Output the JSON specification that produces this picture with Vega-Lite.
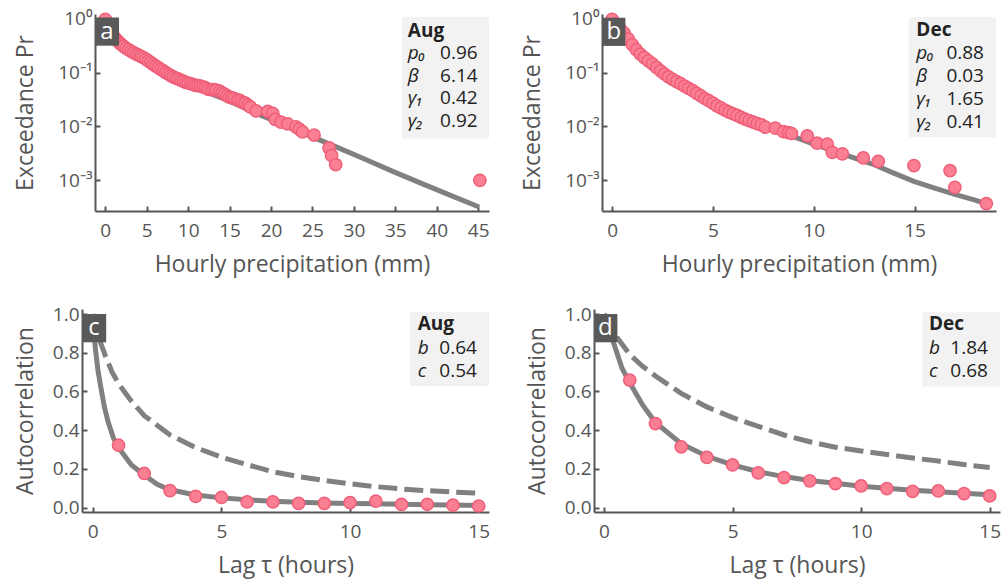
{
  "$schema": "https://vega.github.io/schema/vega-lite/v6.json",
  "background": "white",
  "padding": {"left": 13, "top": 9, "right": 6, "bottom": 6},
  "config": {
    "font": "Open Sans",
    "view": {"stroke": null},
    "text": {"font": "Open Sans"},
    "axis": {"domainColor": "#555", "domainWidth": 2, "tickColor": "#555", "tickWidth": 2, "tickSize": -5, "labelColor": "#555", "titleColor": "#555", "labelFontSize": 19, "titleFontSize": 23, "titleFontWeight": "normal", "grid": false, "labelFont": "Open Sans", "titleFont": "Open Sans"},
    "axisX": {"labelPadding": 15, "titlePadding": 13},
    "axisY": {"labelPadding": 8}
  },
  "datasets": {
    "pts": [
      {"p":"a","x":0.0,"y":0.97},{"p":"a","x":0.2,"y":0.80},{"p":"a","x":0.4,"y":0.68},{"p":"a","x":0.6,"y":0.60},{"p":"a","x":0.8,"y":0.53},{"p":"a","x":1.0,"y":0.47},{"p":"a","x":1.2,"y":0.43},{"p":"a","x":1.4,"y":0.40},{"p":"a","x":1.6,"y":0.37},{"p":"a","x":1.8,"y":0.345},{"p":"a","x":2.0,"y":0.325},{"p":"a","x":2.2,"y":0.305},{"p":"a","x":2.5,"y":0.285},{"p":"a","x":2.8,"y":0.265},{"p":"a","x":3.1,"y":0.25},{"p":"a","x":3.4,"y":0.235},{"p":"a","x":3.7,"y":0.222},{"p":"a","x":4.0,"y":0.21},{"p":"a","x":4.3,"y":0.20},{"p":"a","x":4.6,"y":0.19},{"p":"a","x":4.9,"y":0.178},{"p":"a","x":5.2,"y":0.165},{"p":"a","x":5.5,"y":0.153},{"p":"a","x":5.8,"y":0.142},{"p":"a","x":6.1,"y":0.132},{"p":"a","x":6.4,"y":0.123},{"p":"a","x":6.7,"y":0.115},{"p":"a","x":7.0,"y":0.107},{"p":"a","x":7.3,"y":0.100},{"p":"a","x":7.6,"y":0.094},{"p":"a","x":7.9,"y":0.088},{"p":"a","x":8.2,"y":0.083},{"p":"a","x":8.5,"y":0.079},{"p":"a","x":8.8,"y":0.076},{"p":"a","x":9.1,"y":0.072},{"p":"a","x":9.4,"y":0.069},{"p":"a","x":9.7,"y":0.066},{"p":"a","x":10.0,"y":0.064},{"p":"a","x":10.3,"y":0.062},{"p":"a","x":10.6,"y":0.060},{"p":"a","x":10.9,"y":0.058},{"p":"a","x":11.2,"y":0.057},{"p":"a","x":11.5,"y":0.056},{"p":"a","x":11.8,"y":0.054},{"p":"a","x":12.1,"y":0.052},{"p":"a","x":12.4,"y":0.049},{"p":"a","x":12.8,"y":0.048},{"p":"a","x":13.1,"y":0.048},{"p":"a","x":13.4,"y":0.047},{"p":"a","x":13.8,"y":0.045},{"p":"a","x":14.1,"y":0.042},{"p":"a","x":14.4,"y":0.040},{"p":"a","x":14.7,"y":0.037},{"p":"a","x":15.0,"y":0.035},{"p":"a","x":15.3,"y":0.034},{"p":"a","x":15.6,"y":0.033},{"p":"a","x":16.0,"y":0.031},{"p":"a","x":16.3,"y":0.030},{"p":"a","x":16.6,"y":0.028},{"p":"a","x":16.9,"y":0.027},{"p":"a","x":17.2,"y":0.025},{"p":"a","x":17.5,"y":0.023},{"p":"a","x":18.2,"y":0.0194},{"p":"a","x":19.6,"y":0.019},{"p":"a","x":20.2,"y":0.0175},{"p":"a","x":20.5,"y":0.0135},{"p":"a","x":21.2,"y":0.012},{"p":"a","x":22.0,"y":0.0112},{"p":"a","x":23.0,"y":0.0098},{"p":"a","x":23.4,"y":0.0089},{"p":"a","x":23.8,"y":0.0079},{"p":"a","x":25.2,"y":0.0069},{"p":"a","x":27.0,"y":0.0040},{"p":"a","x":27.3,"y":0.0029},{"p":"a","x":27.8,"y":0.00195},{"p":"a","x":45.2,"y":0.001},
      {"p":"b","x":0.0,"y":0.97},{"p":"b","x":0.2,"y":0.80},{"p":"b","x":0.4,"y":0.65},{"p":"b","x":0.6,"y":0.54},{"p":"b","x":0.8,"y":0.42},{"p":"b","x":1.0,"y":0.33},{"p":"b","x":1.2,"y":0.265},{"p":"b","x":1.4,"y":0.22},{"p":"b","x":1.6,"y":0.19},{"p":"b","x":1.8,"y":0.165},{"p":"b","x":2.0,"y":0.145},{"p":"b","x":2.2,"y":0.125},{"p":"b","x":2.4,"y":0.108},{"p":"b","x":2.6,"y":0.094},{"p":"b","x":2.8,"y":0.083},{"p":"b","x":3.0,"y":0.075},{"p":"b","x":3.2,"y":0.068},{"p":"b","x":3.4,"y":0.062},{"p":"b","x":3.6,"y":0.056},{"p":"b","x":3.8,"y":0.051},{"p":"b","x":4.0,"y":0.046},{"p":"b","x":4.2,"y":0.041},{"p":"b","x":4.4,"y":0.037},{"p":"b","x":4.6,"y":0.033},{"p":"b","x":4.8,"y":0.030},{"p":"b","x":5.0,"y":0.027},{"p":"b","x":5.2,"y":0.024},{"p":"b","x":5.4,"y":0.022},{"p":"b","x":5.6,"y":0.020},{"p":"b","x":5.8,"y":0.0185},{"p":"b","x":6.0,"y":0.0172},{"p":"b","x":6.2,"y":0.016},{"p":"b","x":6.4,"y":0.0148},{"p":"b","x":6.6,"y":0.0137},{"p":"b","x":6.8,"y":0.0128},{"p":"b","x":7.0,"y":0.012},{"p":"b","x":7.2,"y":0.0113},{"p":"b","x":7.4,"y":0.0107},{"p":"b","x":7.6,"y":0.0097},{"p":"b","x":8.1,"y":0.0093},{"p":"b","x":8.5,"y":0.0080},{"p":"b","x":8.75,"y":0.0077},{"p":"b","x":8.9,"y":0.0074},{"p":"b","x":9.68,"y":0.0067},{"p":"b","x":10.17,"y":0.0049},{"p":"b","x":10.67,"y":0.0047},{"p":"b","x":10.92,"y":0.0033},{"p":"b","x":11.42,"y":0.0031},{"p":"b","x":12.46,"y":0.0026},{"p":"b","x":13.2,"y":0.00226},{"p":"b","x":14.97,"y":0.00188},{"p":"b","x":16.76,"y":0.00152},{"p":"b","x":17.0,"y":0.00074},{"p":"b","x":18.56,"y":0.00037},
      {"p":"c","x":1,"y":0.322},{"p":"c","x":2,"y":0.176},{"p":"c","x":3,"y":0.088},{"p":"c","x":4,"y":0.058},{"p":"c","x":5,"y":0.052},{"p":"c","x":6,"y":0.029},{"p":"c","x":7,"y":0.029},{"p":"c","x":8,"y":0.021},{"p":"c","x":9,"y":0.022},{"p":"c","x":10,"y":0.026},{"p":"c","x":11,"y":0.033},{"p":"c","x":12,"y":0.016},{"p":"c","x":13,"y":0.017},{"p":"c","x":14,"y":0.012},{"p":"c","x":15,"y":0.008},
      {"p":"d","x":1,"y":0.659},{"p":"d","x":2,"y":0.434},{"p":"d","x":3,"y":0.314},{"p":"d","x":4,"y":0.259},{"p":"d","x":5,"y":0.220},{"p":"d","x":6,"y":0.179},{"p":"d","x":7,"y":0.155},{"p":"d","x":8,"y":0.138},{"p":"d","x":9,"y":0.124},{"p":"d","x":10,"y":0.112},{"p":"d","x":11,"y":0.098},{"p":"d","x":12,"y":0.084},{"p":"d","x":13,"y":0.086},{"p":"d","x":14,"y":0.072},{"p":"d","x":15,"y":0.060}
    ],
    "fit": [
      {"p":"a","k":"s","x":0,"y":0.96},{"p":"a","k":"s","x":0.5,"y":0.6},{"p":"a","k":"s","x":1,"y":0.45},{"p":"a","k":"s","x":2,"y":0.32},{"p":"a","k":"s","x":3,"y":0.25},{"p":"a","k":"s","x":4,"y":0.205},{"p":"a","k":"s","x":5,"y":0.165},{"p":"a","k":"s","x":6,"y":0.13},{"p":"a","k":"s","x":7,"y":0.105},{"p":"a","k":"s","x":8,"y":0.086},{"p":"a","k":"s","x":9,"y":0.072},{"p":"a","k":"s","x":10,"y":0.062},{"p":"a","k":"s","x":12,"y":0.045},{"p":"a","k":"s","x":14,"y":0.034},{"p":"a","k":"s","x":16,"y":0.025},{"p":"a","k":"s","x":18,"y":0.018},{"p":"a","k":"s","x":20,"y":0.0135},{"p":"a","k":"s","x":22,"y":0.010},{"p":"a","k":"s","x":25.2,"y":0.0062},{"p":"a","k":"s","x":28,"y":0.0041},{"p":"a","k":"s","x":31,"y":0.0026},{"p":"a","k":"s","x":34.9,"y":0.00142},{"p":"a","k":"s","x":38,"y":0.0009},{"p":"a","k":"s","x":41,"y":0.00058},{"p":"a","k":"s","x":45.1,"y":0.00032},
      {"p":"b","k":"s","x":0,"y":0.88},{"p":"b","k":"s","x":0.3,"y":0.6},{"p":"b","k":"s","x":0.6,"y":0.45},{"p":"b","k":"s","x":1,"y":0.31},{"p":"b","k":"s","x":1.5,"y":0.2},{"p":"b","k":"s","x":2,"y":0.14},{"p":"b","k":"s","x":2.5,"y":0.1},{"p":"b","k":"s","x":3,"y":0.074},{"p":"b","k":"s","x":4,"y":0.045},{"p":"b","k":"s","x":5,"y":0.028},{"p":"b","k":"s","x":6,"y":0.018},{"p":"b","k":"s","x":7,"y":0.0125},{"p":"b","k":"s","x":8,"y":0.0088},{"p":"b","k":"s","x":9,"y":0.0065},{"p":"b","k":"s","x":10,"y":0.0047},{"p":"b","k":"s","x":11,"y":0.0035},{"p":"b","k":"s","x":12,"y":0.0026},{"p":"b","k":"s","x":13,"y":0.00195},{"p":"b","k":"s","x":14,"y":0.00135},{"p":"b","k":"s","x":15,"y":0.00095},{"p":"b","k":"s","x":16,"y":0.00072},{"p":"b","k":"s","x":17,"y":0.00055},{"p":"b","k":"s","x":18,"y":0.00043},{"p":"b","k":"s","x":18.55,"y":0.00037},
      {"p":"c","k":"s","x":0,"y":1.0},{"p":"c","k":"s","x":0.1,"y":0.82},{"p":"c","k":"s","x":0.2,"y":0.71},{"p":"c","k":"s","x":0.3,"y":0.63},{"p":"c","k":"s","x":0.45,"y":0.52},{"p":"c","k":"s","x":0.6,"y":0.44},{"p":"c","k":"s","x":0.8,"y":0.36},{"p":"c","k":"s","x":1,"y":0.31},{"p":"c","k":"s","x":1.5,"y":0.22},{"p":"c","k":"s","x":2,"y":0.168},{"p":"c","k":"s","x":2.5,"y":0.12},{"p":"c","k":"s","x":3,"y":0.092},{"p":"c","k":"s","x":4,"y":0.065},{"p":"c","k":"s","x":5,"y":0.05},{"p":"c","k":"s","x":6,"y":0.04},{"p":"c","k":"s","x":7,"y":0.033},{"p":"c","k":"s","x":8,"y":0.028},{"p":"c","k":"s","x":9,"y":0.024},{"p":"c","k":"s","x":10,"y":0.021},{"p":"c","k":"s","x":11,"y":0.019},{"p":"c","k":"s","x":12,"y":0.017},{"p":"c","k":"s","x":13,"y":0.015},{"p":"c","k":"s","x":14,"y":0.013},{"p":"c","k":"s","x":15,"y":0.011},
      {"p":"c","k":"d","x":0,"y":1.0},{"p":"c","k":"d","x":0.25,"y":0.87},{"p":"c","k":"d","x":0.5,"y":0.78},{"p":"c","k":"d","x":0.75,"y":0.70},{"p":"c","k":"d","x":1,"y":0.64},{"p":"c","k":"d","x":1.5,"y":0.55},{"p":"c","k":"d","x":2,"y":0.475},{"p":"c","k":"d","x":3,"y":0.375},{"p":"c","k":"d","x":4,"y":0.31},{"p":"c","k":"d","x":5,"y":0.26},{"p":"c","k":"d","x":6,"y":0.222},{"p":"c","k":"d","x":7,"y":0.185},{"p":"c","k":"d","x":8,"y":0.16},{"p":"c","k":"d","x":9,"y":0.14},{"p":"c","k":"d","x":10,"y":0.123},{"p":"c","k":"d","x":11,"y":0.108},{"p":"c","k":"d","x":12,"y":0.096},{"p":"c","k":"d","x":13,"y":0.087},{"p":"c","k":"d","x":14,"y":0.08},{"p":"c","k":"d","x":15,"y":0.074},
      {"p":"d","k":"s","x":0,"y":1.0},{"p":"d","k":"s","x":0.3,"y":0.88},{"p":"d","k":"s","x":0.7,"y":0.72},{"p":"d","k":"s","x":1,"y":0.645},{"p":"d","k":"s","x":1.5,"y":0.53},{"p":"d","k":"s","x":2,"y":0.44},{"p":"d","k":"s","x":3,"y":0.33},{"p":"d","k":"s","x":4,"y":0.265},{"p":"d","k":"s","x":5,"y":0.22},{"p":"d","k":"s","x":6,"y":0.185},{"p":"d","k":"s","x":7,"y":0.16},{"p":"d","k":"s","x":8,"y":0.14},{"p":"d","k":"s","x":9,"y":0.125},{"p":"d","k":"s","x":10,"y":0.11},{"p":"d","k":"s","x":11,"y":0.10},{"p":"d","k":"s","x":12,"y":0.09},{"p":"d","k":"s","x":13,"y":0.082},{"p":"d","k":"s","x":14,"y":0.074},{"p":"d","k":"s","x":15,"y":0.066},
      {"p":"d","k":"d","x":0,"y":1.0},{"p":"d","k":"d","x":0.5,"y":0.88},{"p":"d","k":"d","x":1,"y":0.79},{"p":"d","k":"d","x":1.5,"y":0.73},{"p":"d","k":"d","x":2,"y":0.68},{"p":"d","k":"d","x":3,"y":0.59},{"p":"d","k":"d","x":4,"y":0.52},{"p":"d","k":"d","x":5,"y":0.465},{"p":"d","k":"d","x":6,"y":0.42},{"p":"d","k":"d","x":7,"y":0.375},{"p":"d","k":"d","x":8,"y":0.34},{"p":"d","k":"d","x":9,"y":0.312},{"p":"d","k":"d","x":10,"y":0.292},{"p":"d","k":"d","x":11,"y":0.274},{"p":"d","k":"d","x":12,"y":0.256},{"p":"d","k":"d","x":13,"y":0.24},{"p":"d","k":"d","x":14,"y":0.222},{"p":"d","k":"d","x":15,"y":0.207}
    ],
    "ann": [
      {"p":"a","r":"box","x":35.8,"x2":46.3,"y":1.09,"y2":0.006},
      {"p":"a","r":"tagbox","x":-1.24,"x2":1.66,"y":1.05,"y2":0.315},
      {"p":"a","r":"tag","x":0.2,"y":0.575,"t":"a"},
      {"p":"a","r":"month","x":36.5,"y":0.60,"t":"Aug"},
      {"p":"a","r":"sym","x":36.5,"y":0.226,"t":"p₀"},
      {"p":"a","r":"sym","x":36.5,"y":0.0868,"t":"β"},
      {"p":"a","r":"sym","x":36.5,"y":0.0337,"t":"γ₁"},
      {"p":"a","r":"sym","x":36.5,"y":0.0126,"t":"γ₂"},
      {"p":"a","r":"val","x":40.4,"y":0.226,"t":"0.96"},
      {"p":"a","r":"val","x":40.4,"y":0.0868,"t":"6.14"},
      {"p":"a","r":"val","x":40.4,"y":0.0337,"t":"0.42"},
      {"p":"a","r":"val","x":40.4,"y":0.0126,"t":"0.92"},
      {"p":"b","r":"box","x":14.72,"x2":19.03,"y":1.07,"y2":0.0063},
      {"p":"b","r":"tagbox","x":-0.5,"x2":0.66,"y":1.04,"y2":0.312},
      {"p":"b","r":"tag","x":0.085,"y":0.565,"t":"b"},
      {"p":"b","r":"month","x":15.09,"y":0.615,"t":"Dec"},
      {"p":"b","r":"sym","x":15.09,"y":0.234,"t":"p₀"},
      {"p":"b","r":"sym","x":15.09,"y":0.0869,"t":"β"},
      {"p":"b","r":"sym","x":15.09,"y":0.0322,"t":"γ₁"},
      {"p":"b","r":"sym","x":15.09,"y":0.0119,"t":"γ₂"},
      {"p":"b","r":"val","x":16.58,"y":0.234,"t":"0.88"},
      {"p":"b","r":"val","x":16.58,"y":0.0869,"t":"0.03"},
      {"p":"b","r":"val","x":16.58,"y":0.0322,"t":"1.65"},
      {"p":"b","r":"val","x":16.58,"y":0.0119,"t":"0.41"},
      {"p":"c","r":"box","x":12.33,"x2":15.4,"y":1.01,"y2":0.628},
      {"p":"c","r":"tagbox","x":-0.42,"x2":0.52,"y":1.0,"y2":0.854},
      {"p":"c","r":"tag","x":0.05,"y":0.928,"t":"c"},
      {"p":"c","r":"month","x":12.63,"y":0.948,"t":"Aug"},
      {"p":"c","r":"sym","x":12.63,"y":0.822,"t":"b"},
      {"p":"c","r":"sym","x":12.63,"y":0.707,"t":"c"},
      {"p":"c","r":"val","x":13.47,"y":0.822,"t":"0.64"},
      {"p":"c","r":"val","x":13.47,"y":0.707,"t":"0.54"},
      {"p":"d","r":"box","x":12.38,"x2":15.4,"y":1.009,"y2":0.626},
      {"p":"d","r":"tagbox","x":-0.39,"x2":0.52,"y":1.0,"y2":0.854},
      {"p":"d","r":"tag","x":0.05,"y":0.928,"t":"d"},
      {"p":"d","r":"month","x":12.64,"y":0.948,"t":"Dec"},
      {"p":"d","r":"sym","x":12.64,"y":0.822,"t":"b"},
      {"p":"d","r":"sym","x":12.64,"y":0.707,"t":"c"},
      {"p":"d","r":"val","x":13.47,"y":0.822,"t":"1.84"},
      {"p":"d","r":"val","x":13.47,"y":0.707,"t":"0.68"}
    ]
  },
  "spacing": 28,
  "vconcat": [
    {
      "spacing": 0,
      "hconcat": [
        {"width": 1, "height": 1, "data": {"values": []}, "mark": "point", "encoding": {}},
        {
          "spacing": 31,
          "hconcat": [
            {
              "width": 394, "height": 197,
              "encoding": {
                "x": {"field": "x", "type": "quantitative", "scale": {"domain": [-1.24, 46.3], "nice": false, "zero": false}, "axis": {"title": "Hourly precipitation (mm)", "values": [0,5,10,15,20,25,30,35,40,45]}},
                "y": {"field": "y", "type": "quantitative", "scale": {"type": "log", "domain": [0.00027, 1.22], "nice": false}, "axis": {"title": "Exceedance Pr", "titlePadding": 20, "values": [1,0.1,0.01,0.001], "labelExpr": "datum.value >= 0.5 ? '10⁰' : datum.value >= 0.05 ? '10⁻¹' : datum.value >= 0.005 ? '10⁻²' : '10⁻³'"}}
              },
              "layer": [
                {"data": {"name": "ann"}, "transform": [{"filter": "datum.p === 'a' && datum.r === 'box'"}], "mark": {"type": "rect", "fill": "#f2f2f2"}, "encoding": {"x2": {"field": "x2"}, "y2": {"field": "y2"}}},
                {"data": {"name": "ann"}, "transform": [{"filter": "datum.p === 'a' && datum.r === 'month'"}], "mark": {"type": "text", "align": "left", "baseline": "middle", "fontSize": 19, "fontWeight": "bold", "color": "#222"}, "encoding": {"text": {"field": "t"}}},
                {"data": {"name": "ann"}, "transform": [{"filter": "datum.p === 'a' && datum.r === 'sym'"}], "mark": {"type": "text", "align": "left", "baseline": "middle", "fontSize": 19, "fontStyle": "italic", "color": "#222"}, "encoding": {"text": {"field": "t"}}},
                {"data": {"name": "ann"}, "transform": [{"filter": "datum.p === 'a' && datum.r === 'val'"}], "mark": {"type": "text", "align": "left", "baseline": "middle", "fontSize": 19, "color": "#222"}, "encoding": {"text": {"field": "t"}}},
                {"data": {"name": "fit"}, "transform": [{"filter": "datum.p === 'a'"}], "mark": {"type": "line", "stroke": "#808080", "strokeWidth": 5}, "encoding": {}},
                {"data": {"name": "pts"}, "transform": [{"filter": "datum.p === 'a'"}], "mark": {"type": "circle", "size": 150, "fill": "#fb7f93", "stroke": "#ef5f79", "strokeWidth": 1.5, "opacity": 1}, "encoding": {}},
                {"data": {"name": "ann"}, "transform": [{"filter": "datum.p === 'a' && datum.r === 'tagbox'"}], "mark": {"type": "rect", "fill": "#595959"}, "encoding": {"x2": {"field": "x2"}, "y2": {"field": "y2"}}},
                {"data": {"name": "ann"}, "transform": [{"filter": "datum.p === 'a' && datum.r === 'tag'"}], "mark": {"type": "text", "align": "center", "baseline": "middle", "fontSize": 24, "color": "white"}, "encoding": {"text": {"field": "t"}}}
              ]
            },
            {
              "width": 394, "height": 197,
              "encoding": {
                "x": {"field": "x", "type": "quantitative", "scale": {"domain": [-0.5, 19.04], "nice": false, "zero": false}, "axis": {"title": "Hourly precipitation (mm)", "values": [0,5,10,15]}},
                "y": {"field": "y", "type": "quantitative", "scale": {"type": "log", "domain": [0.00027, 1.22], "nice": false}, "axis": {"title": "Exceedance Pr", "titlePadding": 20, "values": [1,0.1,0.01,0.001], "labelExpr": "datum.value >= 0.5 ? '10⁰' : datum.value >= 0.05 ? '10⁻¹' : datum.value >= 0.005 ? '10⁻²' : '10⁻³'"}}
              },
              "layer": [
                {"data": {"name": "ann"}, "transform": [{"filter": "datum.p === 'b' && datum.r === 'box'"}], "mark": {"type": "rect", "fill": "#f2f2f2"}, "encoding": {"x2": {"field": "x2"}, "y2": {"field": "y2"}}},
                {"data": {"name": "ann"}, "transform": [{"filter": "datum.p === 'b' && datum.r === 'month'"}], "mark": {"type": "text", "align": "left", "baseline": "middle", "fontSize": 19, "fontWeight": "bold", "color": "#222"}, "encoding": {"text": {"field": "t"}}},
                {"data": {"name": "ann"}, "transform": [{"filter": "datum.p === 'b' && datum.r === 'sym'"}], "mark": {"type": "text", "align": "left", "baseline": "middle", "fontSize": 19, "fontStyle": "italic", "color": "#222"}, "encoding": {"text": {"field": "t"}}},
                {"data": {"name": "ann"}, "transform": [{"filter": "datum.p === 'b' && datum.r === 'val'"}], "mark": {"type": "text", "align": "left", "baseline": "middle", "fontSize": 19, "color": "#222"}, "encoding": {"text": {"field": "t"}}},
                {"data": {"name": "fit"}, "transform": [{"filter": "datum.p === 'b'"}], "mark": {"type": "line", "stroke": "#808080", "strokeWidth": 5}, "encoding": {}},
                {"data": {"name": "pts"}, "transform": [{"filter": "datum.p === 'b'"}], "mark": {"type": "circle", "size": 150, "fill": "#fb7f93", "stroke": "#ef5f79", "strokeWidth": 1.5, "opacity": 1}, "encoding": {}},
                {"data": {"name": "ann"}, "transform": [{"filter": "datum.p === 'b' && datum.r === 'tagbox'"}], "mark": {"type": "rect", "fill": "#595959"}, "encoding": {"x2": {"field": "x2"}, "y2": {"field": "y2"}}},
                {"data": {"name": "ann"}, "transform": [{"filter": "datum.p === 'b' && datum.r === 'tag'"}], "mark": {"type": "text", "align": "center", "baseline": "middle", "fontSize": 24, "color": "white"}, "encoding": {"text": {"field": "t"}}}
              ]
            }
          ]
        }
      ]
    },
    {
      "spacing": 0,
      "hconcat": [
        {"width": 1, "height": 1, "data": {"values": []}, "mark": "point", "encoding": {}},
        {
          "spacing": 36,
          "hconcat": [
            {
              "width": 407, "height": 203,
              "encoding": {
                "x": {"field": "x", "type": "quantitative", "scale": {"domain": [-0.42, 15.4], "nice": false, "zero": false}, "axis": {"title": "Lag τ (hours)", "values": [0,5,10,15]}},
                "y": {"field": "y", "type": "quantitative", "scale": {"domain": [-0.023, 1.026], "nice": false, "zero": false}, "axis": {"title": "Autocorrelation", "titlePadding": 15, "values": [0,0.2,0.4,0.6,0.8,1.0], "format": ".1f"}}
              },
              "layer": [
                {"data": {"name": "ann"}, "transform": [{"filter": "datum.p === 'c' && datum.r === 'box'"}], "mark": {"type": "rect", "fill": "#f2f2f2"}, "encoding": {"x2": {"field": "x2"}, "y2": {"field": "y2"}}},
                {"data": {"name": "ann"}, "transform": [{"filter": "datum.p === 'c' && datum.r === 'month'"}], "mark": {"type": "text", "align": "left", "baseline": "middle", "fontSize": 19, "fontWeight": "bold", "color": "#222"}, "encoding": {"text": {"field": "t"}}},
                {"data": {"name": "ann"}, "transform": [{"filter": "datum.p === 'c' && datum.r === 'sym'"}], "mark": {"type": "text", "align": "left", "baseline": "middle", "fontSize": 19, "fontStyle": "italic", "color": "#222"}, "encoding": {"text": {"field": "t"}}},
                {"data": {"name": "ann"}, "transform": [{"filter": "datum.p === 'c' && datum.r === 'val'"}], "mark": {"type": "text", "align": "left", "baseline": "middle", "fontSize": 19, "color": "#222"}, "encoding": {"text": {"field": "t"}}},
                {"data": {"name": "fit"}, "transform": [{"filter": "datum.p === 'c' && datum.k === 'd'"}], "mark": {"type": "line", "stroke": "#808080", "strokeWidth": 5, "strokeDash": [19, 7]}, "encoding": {}},
                {"data": {"name": "fit"}, "transform": [{"filter": "datum.p === 'c' && datum.k === 's'"}], "mark": {"type": "line", "stroke": "#808080", "strokeWidth": 5}, "encoding": {}},
                {"data": {"name": "pts"}, "transform": [{"filter": "datum.p === 'c'"}], "mark": {"type": "circle", "size": 150, "fill": "#fb7f93", "stroke": "#ef5f79", "strokeWidth": 1.5, "opacity": 1}, "encoding": {}},
                {"data": {"name": "ann"}, "transform": [{"filter": "datum.p === 'c' && datum.r === 'tagbox'"}], "mark": {"type": "rect", "fill": "#595959"}, "encoding": {"x2": {"field": "x2"}, "y2": {"field": "y2"}}},
                {"data": {"name": "ann"}, "transform": [{"filter": "datum.p === 'c' && datum.r === 'tag'"}], "mark": {"type": "text", "align": "center", "baseline": "middle", "fontSize": 24, "color": "white"}, "encoding": {"text": {"field": "t"}}}
              ]
            },
            {
              "width": 406, "height": 203,
              "encoding": {
                "x": {"field": "x", "type": "quantitative", "scale": {"domain": [-0.39, 15.4], "nice": false, "zero": false}, "axis": {"title": "Lag τ (hours)", "values": [0,5,10,15]}},
                "y": {"field": "y", "type": "quantitative", "scale": {"domain": [-0.023, 1.026], "nice": false, "zero": false}, "axis": {"title": "Autocorrelation", "titlePadding": 15, "values": [0,0.2,0.4,0.6,0.8,1.0], "format": ".1f"}}
              },
              "layer": [
                {"data": {"name": "ann"}, "transform": [{"filter": "datum.p === 'd' && datum.r === 'box'"}], "mark": {"type": "rect", "fill": "#f2f2f2"}, "encoding": {"x2": {"field": "x2"}, "y2": {"field": "y2"}}},
                {"data": {"name": "ann"}, "transform": [{"filter": "datum.p === 'd' && datum.r === 'month'"}], "mark": {"type": "text", "align": "left", "baseline": "middle", "fontSize": 19, "fontWeight": "bold", "color": "#222"}, "encoding": {"text": {"field": "t"}}},
                {"data": {"name": "ann"}, "transform": [{"filter": "datum.p === 'd' && datum.r === 'sym'"}], "mark": {"type": "text", "align": "left", "baseline": "middle", "fontSize": 19, "fontStyle": "italic", "color": "#222"}, "encoding": {"text": {"field": "t"}}},
                {"data": {"name": "ann"}, "transform": [{"filter": "datum.p === 'd' && datum.r === 'val'"}], "mark": {"type": "text", "align": "left", "baseline": "middle", "fontSize": 19, "color": "#222"}, "encoding": {"text": {"field": "t"}}},
                {"data": {"name": "fit"}, "transform": [{"filter": "datum.p === 'd' && datum.k === 'd'"}], "mark": {"type": "line", "stroke": "#808080", "strokeWidth": 5, "strokeDash": [19, 7]}, "encoding": {}},
                {"data": {"name": "fit"}, "transform": [{"filter": "datum.p === 'd' && datum.k === 's'"}], "mark": {"type": "line", "stroke": "#808080", "strokeWidth": 5}, "encoding": {}},
                {"data": {"name": "pts"}, "transform": [{"filter": "datum.p === 'd'"}], "mark": {"type": "circle", "size": 150, "fill": "#fb7f93", "stroke": "#ef5f79", "strokeWidth": 1.5, "opacity": 1}, "encoding": {}},
                {"data": {"name": "ann"}, "transform": [{"filter": "datum.p === 'd' && datum.r === 'tagbox'"}], "mark": {"type": "rect", "fill": "#595959"}, "encoding": {"x2": {"field": "x2"}, "y2": {"field": "y2"}}},
                {"data": {"name": "ann"}, "transform": [{"filter": "datum.p === 'd' && datum.r === 'tag'"}], "mark": {"type": "text", "align": "center", "baseline": "middle", "fontSize": 24, "color": "white"}, "encoding": {"text": {"field": "t"}}}
              ]
            }
          ]
        }
      ]
    }
  ]
}
